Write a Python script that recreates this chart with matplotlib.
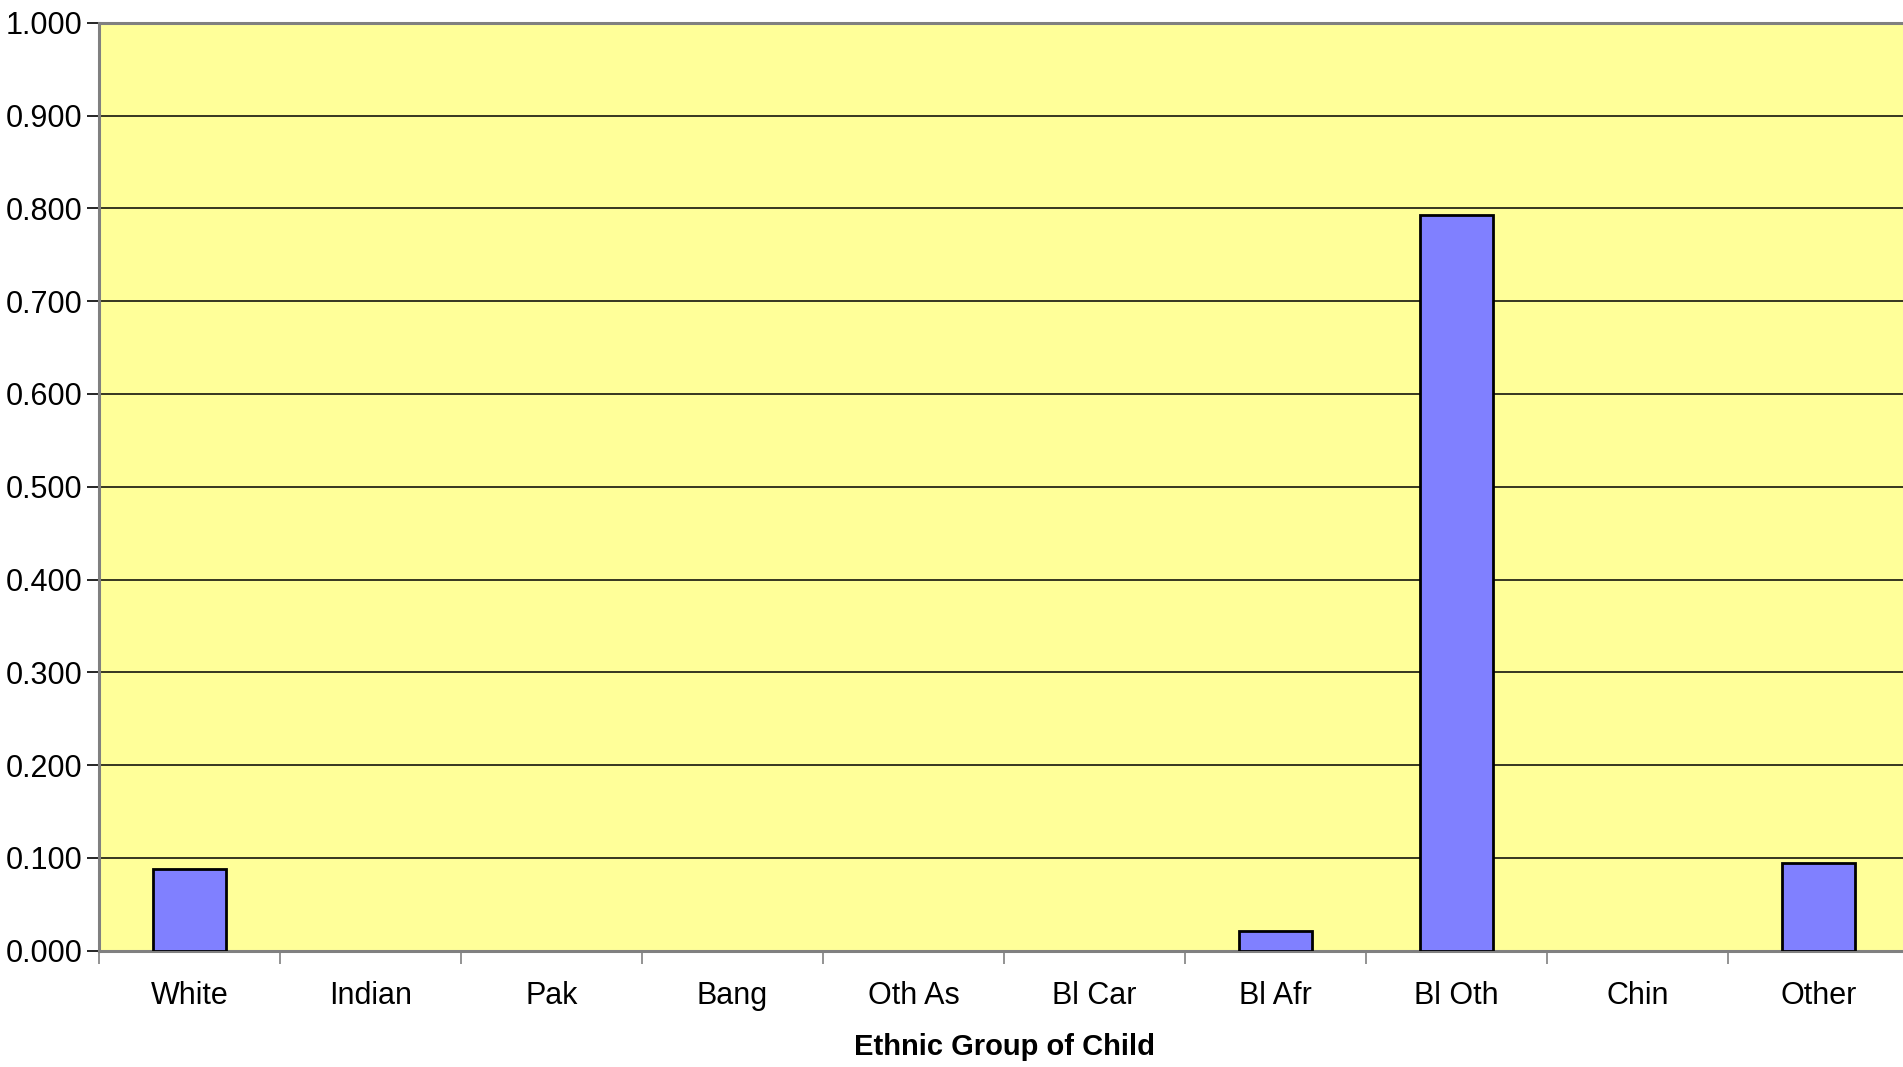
import matplotlib
matplotlib.use("Agg")
import matplotlib.pyplot as plt
from matplotlib import font_manager
import numpy as np

categories = ["White", "Indian", "Pak", "Bang", "Oth As", "Bl Car", "Bl Afr", "Bl Oth", "Chin", "Other"]
values = [0.088, 0.0, 0.0, 0.0, 0.0, 0.0, 0.021, 0.793, 0.0, 0.095]
y_ticks = [0.0, 0.1, 0.2, 0.3, 0.4, 0.5, 0.6, 0.7, 0.8, 0.9, 1.0]
x_title = "Ethnic Group of Child"

installed = {f.name for f in font_manager.fontManager.ttflist}
family = "Liberation Sans Narrow" if "Liberation Sans Narrow" in installed else "Liberation Sans"
plt.rcParams["font.family"] = [family, "DejaVu Sans"]

W, H = 1903, 1067
fig = plt.figure(figsize=(W / 100, H / 100), dpi=100)
ax = fig.add_axes([99 / W, 1 - 950.7 / H, 1810 / W, 928 / H])
ax.set_facecolor("#FFFF99")

x = np.arange(len(categories))
# empty categories get no outline
edge_widths = [2 if v > 0 else 0 for v in values]
ax.bar(x, values, width=0.40, color="#8080FF", edgecolor="black",
       linewidth=edge_widths, zorder=3)

ax.set_xlim(-0.5, len(categories) - 0.5)
ax.set_ylim(0, 1.0)
ax.set_yticks(y_ticks)
ax.set_yticklabels([f"{v:.3f}" for v in y_ticks], fontsize=22)
ax.yaxis.grid(True, color="black", linewidth=1.1, zorder=1)
ax.set_axisbelow(True)

# category labels centred, ticks on category boundaries
ax.set_xticks(x)
ax.set_xticklabels(categories, fontsize=22)
ax.tick_params(axis="x", which="major", length=0, pad=22)
ax.set_xticks(np.arange(-0.5, len(categories)), minor=True)
ax.tick_params(axis="x", which="minor", length=9, width=1.2, color="#808080")
ax.tick_params(axis="y", length=9, width=1.2, color="black", pad=3)

for side in ["left", "bottom", "top"]:
    ax.spines[side].set_color("#808080")
    ax.spines[side].set_linewidth(2.2)
ax.spines["right"].set_visible(False)

ax.set_xlabel(x_title, fontsize=21, fontweight="bold", labelpad=16)

fig.savefig("out.png", dpi=100)
